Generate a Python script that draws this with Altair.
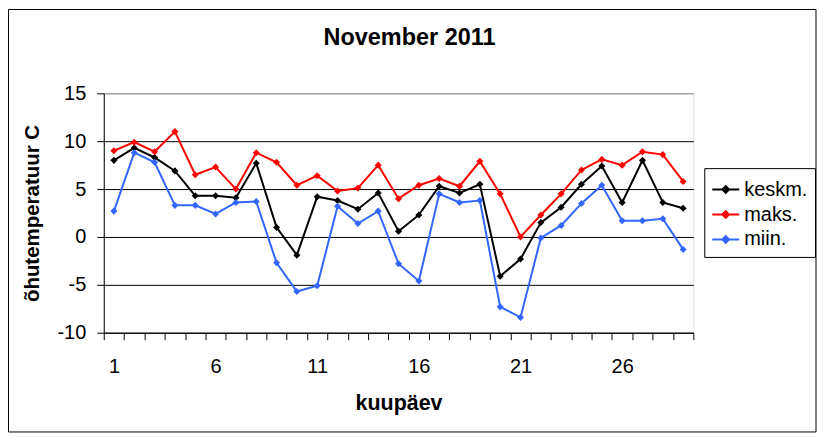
import altair as alt
import pandas as pd

days = list(range(1, 30))
keskm = [8.0, 9.3, 8.3, 6.9, 4.3, 4.3, 4.1, 7.7, 1.0, -1.9,
         4.2, 3.8, 2.9, 4.6, 0.6, 2.3, 5.3, 4.6, 5.5, -4.1,
         -2.3, 1.5, 3.1, 5.5, 7.4, 3.6, 8.0, 3.6, 3.0]
maks = [9.0, 9.9, 8.9, 11.0, 6.5, 7.3, 5.0, 8.8, 7.8, 5.4,
        6.4, 4.8, 5.1, 7.5, 4.0, 5.4, 6.1, 5.3, 7.9, 4.5,
        0.0, 2.3, 4.5, 7.0, 8.1, 7.5, 8.9, 8.6, 5.8]
miin = [2.7, 8.8, 7.8, 3.3, 3.3, 2.4, 3.6, 3.7, -2.7, -5.7,
        -5.1, 3.2, 1.4, 2.7, -2.8, -4.6, 4.5, 3.6, 3.8, -7.3,
        -8.4, -0.1, 1.2, 3.5, 5.4, 1.7, 1.7, 1.9, -1.3]
series_names = ["keskm.", "maks.", "miin."]
series_colors = ["#000000", "#FF0000", "#3366FF"]
y_ticks = [-10, -5, 0, 5, 10, 15]

rows = []
for name, vals in zip(series_names, [keskm, maks, miin]):
    for d, v in zip(days, vals):
        rows.append({"day": d, "series": name, "value": v})
df = pd.DataFrame(rows)

FONT = "Liberation Sans"
W, H = 591, 240
n = len(days)
band = W / n
x_bounds = [i + 0.5 for i in range(n + 1)]

x_enc = alt.X(
    "day:Q",
    scale=alt.Scale(domain=[0.5, n + 0.5], nice=False, zero=False),
    axis=alt.Axis(
        values=x_bounds,
        labelExpr="(datum.value + 0.5) % 5 == 1 && datum.value < 29 ? '' + (datum.value + 0.5) : ''",
        labelOffset=band / 2,
        labelFlush=False,
        labelOverlap=False,
        labelFont=FONT, labelFontSize=20, labelColor="black",
        labelBaseline="alphabetic", labelPadding=32.7,
        tickSize=7, tickColor="black", domainColor="black",
        grid=False,
        title="kuupäev", titleFont=FONT, titleFontSize=21.5, titleFontWeight="bold",
        titleColor="black", titleX=W / 2, titleY=77, titleAlign="center",
        titleBaseline="alphabetic",
    ),
)
y_enc = alt.Y(
    "value:Q",
    scale=alt.Scale(domain=[-10, 15], nice=False, zero=False),
    axis=alt.Axis(
        values=y_ticks,
        labelExpr="'' + datum.value",
        labelFont=FONT, labelFontSize=20, labelColor="black", labelPadding=11,
        tickSize=7, tickColor="black", domainColor="black",
        grid=True,
        gridColor={"condition": {"test": "datum.value == 15", "value": "#808080"}, "value": "black"},
        gridOpacity=1, gridWidth=1,
        title="õhutemperatuur C", titleFont=FONT, titleFontSize=20.5, titleFontWeight="bold",
        titleColor="black", titleAngle=270, titleX=-65.5, titleY=H / 2,
        titleAlign="center", titleBaseline="alphabetic",
    ),
)
color_scale = alt.Scale(domain=series_names, range=series_colors)

lines = alt.Chart(df).mark_line(strokeWidth=2).encode(
    x=x_enc, y=y_enc,
    color=alt.Color(
        "series:N", scale=color_scale,
        legend=alt.Legend(
            title=None, orient="none", legendX=602, legendY=75,
            symbolType="M-1,0H1M-0.25,0L0,-0.25L0.25,0L0,0.25Z",
            symbolSize=729, symbolStrokeWidth=2,
            symbolFillColor={"expr": "scale('color', datum.value)"},
            labelFont=FONT, labelFontSize=20, labelColor="black", labelOffset=4,
            padding=7, rowPadding=0,
            strokeColor="black", fillColor="white",
        ),
    ),
    detail="series:N",
)
points = alt.Chart(df).mark_point(shape="diamond", filled=True, size=50, opacity=1).encode(
    x=x_enc, y=y_enc,
    color=alt.Color("series:N", scale=color_scale, legend=None),
)
border = alt.Chart(alt.Data(values=[{}])).mark_rect(
    filled=False, stroke="black", strokeWidth=1
).encode(
    x=alt.value(-95.5), x2=alt.value(714), y=alt.value(-84), y2=alt.value(339.5)
)

chart = alt.layer(border, lines, points).properties(
    width=W, height=H,
    title=alt.TitleParams(
        "November 2011", font=FONT, fontSize=23.5, fontWeight="bold", color="black",
        anchor="middle", frame="group", dx=11, baseline="alphabetic", offset=-60,
    ),
    autosize=alt.AutoSizeParams(type="none"),
    padding={"left": 96, "top": 85, "right": 124, "bottom": 100},
).configure_view(
    fill="#C0C0C0", stroke="#808080", strokeWidth=1
).configure(background="white")

chart.save("out.html", embed_options={"renderer": "svg", "actions": False})
